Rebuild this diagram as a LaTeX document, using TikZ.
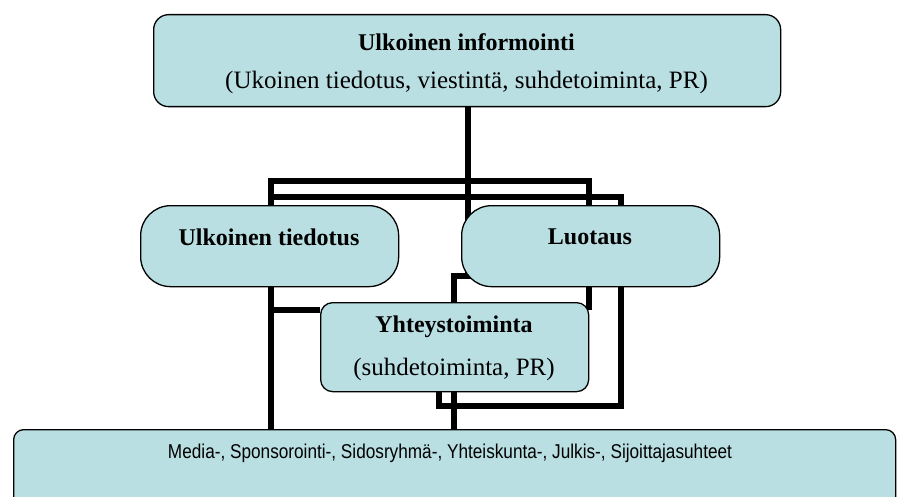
\documentclass[tikz,border=0pt]{standalone}
\usepackage{fontspec}
\setmainfont{Liberation Serif}
\newfontfamily\arialf{Liberation Sans}
\usetikzlibrary{backgrounds}
\definecolor{boxfill}{RGB}{185,223,227}
\begin{document}
\begin{tikzpicture}[x=1pt,y=-1pt,
  box/.style={draw=black,line width=1.3pt,fill=boxfill,inner sep=0pt,anchor=north west},
  conn/.style={line width=6pt,line join=miter,line cap=butt},
  lbl/.style={font=\fontsize{25}{27}\selectfont,inner sep=0pt},
  blbl/.style={font=\fontsize{24}{26}\selectfont\bfseries,inner sep=0pt},
  slbl/.style={font=\arialf\fontsize{20}{22}\selectfont,inner sep=0pt,xscale=0.86}]
\useasboundingbox (0,0) rectangle (904,497);
\clip (0,0) rectangle (904,497);

% boxes
\node[box,rounded corners=15pt,minimum width=627pt,minimum height=92pt] (top) at (153,14) {};
\node[box,rounded corners=30pt,minimum width=258pt,minimum height=81pt] (ut) at (140,205) {};
\node[box,rounded corners=30pt,minimum width=258pt,minimum height=81pt] (lu) at (461,205) {};
\node[box,rounded corners=12pt,minimum width=268pt,minimum height=89pt] (yh) at (320,302) {};
\node[box,rounded corners=10pt,minimum width=882pt,minimum height=100pt] (bot) at (13,429) {};

% texts
\node[blbl] (topA) at (466.5,42) {Ulkoinen informointi};
\node[lbl] (topB) at (466.5,82) {(Ukoinen tiedotus, viestintä, suhdetoiminta, PR)};
\node[blbl] (utA) at (269,237) {Ulkoinen tiedotus};
\node[blbl] (luA) at (590,237) {Luotaus};
\node[blbl] (yhA) at (454,327) {Yhteystoiminta};
\node[lbl] (yhB) at (454,369) {(suhdetoiminta, PR)};
\node[slbl] (botA) at (450,453) {Media-, Sponsorointi-, Sidosryhmä-, Yhteiskunta-, Julkis-, Sijoittajasuhteet};

% connector coordinates
\coordinate (p1a) at (271,310);
\coordinate (p1b) at (271,181);
\coordinate (p1c) at (589,181);
\coordinate (p1d) at (589,310);
\coordinate (p2b) at (271,197);
\coordinate (p2c) at (621,197);
\coordinate (p2d) at (621,406);
\coordinate (p2e) at (439,406);
\coordinate (p3a) at (468,276);
\coordinate (p3b) at (454,276);

\begin{scope}[on background layer]
  \draw[conn] (p1a) -- (p1b) -- (p1c) -- (p1d);
  \draw[conn] (p1a) -- (yh.west |- p1a);
  \draw[conn] (bot.north -| p2b) -- (p2b) -- (p2c) -- (p2d) -- (p2e) -- (yh.south -| p2e);
  \draw[conn] (top.south -| p3a) -- (p3a) -- (p3b) -- (bot.north -| p3b);
\end{scope}
\end{tikzpicture}
\end{document}
